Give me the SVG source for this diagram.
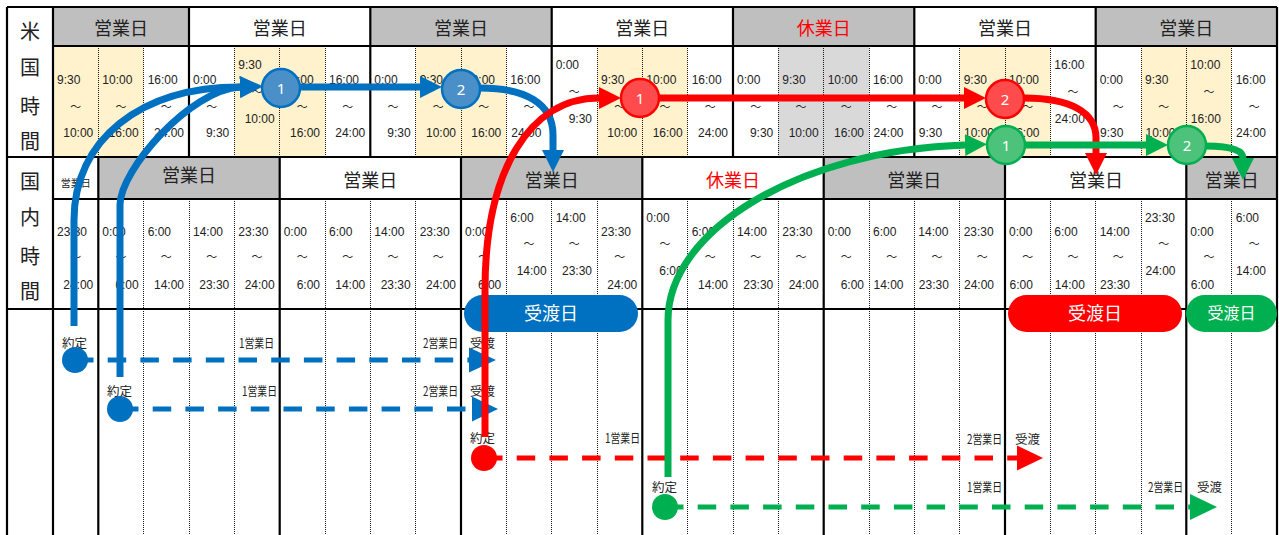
<svg xmlns="http://www.w3.org/2000/svg" width="1279" height="535" viewBox="0 0 1279 535">
<style>
.tk{stroke:#000;stroke-width:2.2;fill:none}
.dt{stroke:#1a1a1a;stroke-width:1;stroke-dasharray:1 1;fill:none}
.t{font-family:"Liberation Sans",Arial,sans-serif;font-size:12px;fill:#222}
.e{text-anchor:end}
.w{font-family:"Noto Sans CJK JP",sans-serif;font-size:11px;fill:#222;text-anchor:middle}
.h{font-family:"Noto Sans CJK JP",sans-serif;font-size:18px;fill:#222;text-anchor:middle}
.red{fill:#FF0000}
.lb{font-family:"Noto Sans CJK JP",sans-serif;font-size:20px;fill:#222;text-anchor:middle}
.s{font-family:"Noto Sans CJK JP",sans-serif;font-size:12.5px;fill:#222}
.pill{font-family:"Noto Sans CJK JP",sans-serif;font-size:18px;fill:#fff;text-anchor:middle}
.num{font-family:"Noto Sans",sans-serif;font-size:15px;fill:#fff;text-anchor:middle}
.cb{stroke:#0070C0;stroke-width:7;fill:none}
.cr{stroke:#FF0000;stroke-width:7;fill:none}
.cg{stroke:#00B050;stroke-width:7;fill:none}
.db{stroke:#0070C0;stroke-width:5;fill:none;stroke-dasharray:18.5 14.2}
.dr{stroke:#FF0000;stroke-width:5;fill:none;stroke-dasharray:18.5 14.2}
.dg{stroke:#00B050;stroke-width:5;fill:none;stroke-dasharray:18.5 14.2}
</style>
<defs>
<marker id="ab" markerUnits="userSpaceOnUse" markerWidth="22" markerHeight="22" viewBox="0 0 22 22" refX="0" refY="11" orient="auto"><path d="M0,0 L22,11 L0,22z" fill="#0070C0"/></marker>
<marker id="ar" markerUnits="userSpaceOnUse" markerWidth="22" markerHeight="22" viewBox="0 0 22 22" refX="0" refY="11" orient="auto"><path d="M0,0 L22,11 L0,22z" fill="#FF0000"/></marker>
<marker id="ag" markerUnits="userSpaceOnUse" markerWidth="22" markerHeight="22" viewBox="0 0 22 22" refX="0" refY="11" orient="auto"><path d="M0,0 L22,11 L0,22z" fill="#00B050"/></marker>
</defs>
<rect x="0" y="0" width="1279" height="535" fill="#fff"/>

<g id="fills">
<rect x="53" y="7" width="136" height="39" fill="#BFBFBF"/>
<rect x="370.3" y="7" width="181.4" height="39" fill="#BFBFBF"/>
<rect x="733" y="7" width="181.3" height="39" fill="#BFBFBF"/>
<rect x="1095.7" y="7" width="181.3" height="39" fill="#BFBFBF"/>
<rect x="53" y="46" width="90.7" height="111" fill="#FFF2CC"/>
<rect x="234.3" y="46" width="90.7" height="111" fill="#FFF2CC"/>
<rect x="415.7" y="46" width="90.6" height="111" fill="#FFF2CC"/>
<rect x="597" y="46" width="90.7" height="111" fill="#FFF2CC"/>
<rect x="778.3" y="46" width="90.7" height="111" fill="#D9D9D9"/>
<rect x="959.7" y="46" width="90.6" height="111" fill="#FFF2CC"/>
<rect x="1141" y="46" width="90.7" height="111" fill="#FFF2CC"/>
<rect x="98.3" y="157" width="181.4" height="42" fill="#BFBFBF"/>
<rect x="461" y="157" width="181.3" height="42" fill="#BFBFBF"/>
<rect x="823.7" y="157" width="181.3" height="42" fill="#BFBFBF"/>
<rect x="1186.3" y="157" width="90.7" height="42" fill="#BFBFBF"/>
</g>

<g id="grid">
<path class="dt" d="M98.5,46V157M143.5,46V157M234.5,46V157M279.5,46V157M325.5,46V157M415.5,46V157M461.5,46V157M506.5,46V157M597.5,46V157M642.5,46V157M687.5,46V157M778.5,46V157M823.5,46V157M869.5,46V157M959.5,46V157M1005.5,46V157M1050.5,46V157M1141.5,46V157M1186.5,46V157M1231.5,46V157"/>
<path class="dt" d="M143.5,199V535M189.5,199V535M234.5,199V535M325.5,199V535M370.5,199V535M415.5,199V535M506.5,199V535M551.5,199V535M597.5,199V535M687.5,199V535M733.5,199V535M778.5,199V535M869.5,199V535M914.5,199V535M959.5,199V535M1050.5,199V535M1095.5,199V535M1141.5,199V535M1231.5,199V535"/>
<path class="tk" d="M7,7H1277M53,46H1277M7,157H1277M53,199H1277M7,309H1277M7,7V535M53,7V535M1277,7V535"/>
<path class="tk" d="M189,7V157M370.3,7V157M551.7,7V157M733,7V157M914.3,7V157M1095.7,7V157"/>
<path class="tk" d="M98.3,157V535M279.7,157V535M461,157V535M642.3,157V535M823.7,157V535M1005,157V535M1186.3,157V535"/>
</g>

<g id="labels-left">
<text class="lb" x="30" y="39">米</text>
<text class="lb" x="30" y="75">国</text>
<text class="lb" x="30" y="114">時</text>
<text class="lb" x="30" y="149">間</text>
<text class="lb" x="30" y="189">国</text>
<text class="lb" x="30" y="225">内</text>
<text class="lb" x="30" y="264">時</text>
<text class="lb" x="30" y="299">間</text>
</g>

<g id="us-header">
<text class="h" x="121" y="34.5">営業日</text>
<text class="h" x="279.7" y="34.5">営業日</text>
<text class="h" x="461" y="34.5">営業日</text>
<text class="h" x="642.3" y="34.5">営業日</text>
<text class="h red" x="823.7" y="34.5">休業日</text>
<text class="h" x="1005" y="34.5">営業日</text>
<text class="h" x="1186.3" y="34.5">営業日</text>
</g>

<g id="jp-header">
<text class="h" x="75.7" y="186.5" style="font-size:10px">営業日</text>
<text class="h" x="189" y="181.5">営業日</text>
<text class="h" x="370.3" y="186.5">営業日</text>
<text class="h" x="551.7" y="186.5">営業日</text>
<text class="h red" x="733" y="186.5">休業日</text>
<text class="h" x="914.3" y="186.5">営業日</text>
<text class="h" x="1096" y="186.5">営業日</text>
<text class="h" x="1231.7" y="186.5">営業日</text>
</g>

<g id="us-times">
<text class="t" x="57" y="84">9:30</text><text class="w" x="75.7" y="111">～</text><text class="t e" x="93.3" y="137">10:00</text>
<text class="t" x="102.3" y="84">10:00</text><text class="w" x="121" y="111">～</text><text class="t e" x="138.7" y="137">16:00</text>
<text class="t" x="147.7" y="84">16:00</text><text class="w" x="166.3" y="111">～</text><text class="t e" x="184" y="137">24:00</text>
<text class="t" x="193" y="84">0:00</text><text class="w" x="211.7" y="111">～</text><text class="t e" x="229.3" y="137">9:30</text>
<text class="t" x="238.3" y="69">9:30</text><text class="w" x="257" y="96">～</text><text class="t e" x="274.7" y="123">10:00</text>
<text class="t" x="283.7" y="84">10:00</text><text class="w" x="302.3" y="111">～</text><text class="t e" x="320" y="137">16:00</text>
<text class="t" x="329" y="84">16:00</text><text class="w" x="347.7" y="111">～</text><text class="t e" x="365.3" y="137">24:00</text>
<text class="t" x="374.3" y="84">0:00</text><text class="w" x="393" y="111">～</text><text class="t e" x="410.7" y="137">9:30</text>
<text class="t" x="419.7" y="84">9:30</text><text class="w" x="438.3" y="111">～</text><text class="t e" x="456" y="137">10:00</text>
<text class="t" x="465" y="84">10:00</text><text class="w" x="483.7" y="111">～</text><text class="t e" x="501.3" y="137">16:00</text>
<text class="t" x="510.3" y="84">16:00</text><text class="w" x="529" y="111">～</text><text class="t" x="511.3" y="137">24:00</text>
<text class="t" x="555.7" y="69">0:00</text><text class="w" x="574.3" y="96">～</text><text class="t e" x="592" y="123">9:30</text>
<text class="t" x="601" y="84">9:30</text><text class="w" x="619.7" y="111">～</text><text class="t e" x="637.3" y="137">10:00</text>
<text class="t" x="646.3" y="84">10:00</text><text class="w" x="665" y="111">～</text><text class="t e" x="682.7" y="137">16:00</text>
<text class="t" x="691.7" y="84">16:00</text><text class="w" x="710.3" y="111">～</text><text class="t e" x="728" y="137">24:00</text>
<text class="t" x="737" y="84">0:00</text><text class="w" x="755.7" y="111">～</text><text class="t e" x="773.3" y="137">9:30</text>
<text class="t" x="782.3" y="84">9:30</text><text class="w" x="801" y="111">～</text><text class="t e" x="818.7" y="137">10:00</text>
<text class="t" x="827.7" y="84">10:00</text><text class="w" x="846.3" y="111">～</text><text class="t e" x="864" y="137">16:00</text>
<text class="t" x="873" y="84">16:00</text><text class="w" x="891.7" y="111">～</text><text class="t" x="873.5" y="137">24:00</text>
<text class="t" x="918.3" y="84">0:00</text><text class="w" x="937" y="111">～</text><text class="t" x="918.8" y="137">9:30</text>
<text class="t" x="963.7" y="84">9:30</text><text class="w" x="982.3" y="111">～</text><text class="t" x="964" y="137">10:00</text>
<text class="t" x="1009" y="84">10:00</text><text class="w" x="1027.7" y="111">～</text><text class="t" x="1009.5" y="137">16:00</text>
<text class="t" x="1054.3" y="69">16:00</text><text class="w" x="1073" y="96">～</text><text class="t" x="1054.8" y="123">24:00</text>
<text class="t" x="1099.7" y="84">0:00</text><text class="w" x="1118.3" y="111">～</text><text class="t" x="1100" y="137">9:30</text>
<text class="t" x="1145" y="84">9:30</text><text class="w" x="1163.7" y="111">～</text><text class="t" x="1145.5" y="137">10:00</text>
<text class="t" x="1190.3" y="69">10:00</text><text class="w" x="1209" y="96">～</text><text class="t" x="1190.8" y="123">16:00</text>
<text class="t" x="1235.7" y="84">16:00</text><text class="w" x="1254.3" y="111">～</text><text class="t" x="1236" y="137">24:00</text>
</g>

<g id="jp-times">
<text class="t" x="57" y="236">23:30</text><text class="w" x="75.7" y="261">～</text><text class="t e" x="93.3" y="289">24:00</text>
<text class="t" x="102.3" y="236">0:00</text><text class="w" x="121" y="261">～</text><text class="t e" x="138.7" y="289">6:00</text>
<text class="t" x="147.7" y="236">6:00</text><text class="w" x="166.3" y="261">～</text><text class="t e" x="184" y="289">14:00</text>
<text class="t" x="193" y="236">14:00</text><text class="w" x="211.7" y="261">～</text><text class="t e" x="229.3" y="289">23:30</text>
<text class="t" x="238.3" y="236">23:30</text><text class="w" x="257" y="261">～</text><text class="t e" x="274.7" y="289">24:00</text>
<text class="t" x="283.7" y="236">0:00</text><text class="w" x="302.3" y="261">～</text><text class="t e" x="320" y="289">6:00</text>
<text class="t" x="329" y="236">6:00</text><text class="w" x="347.7" y="261">～</text><text class="t e" x="365.3" y="289">14:00</text>
<text class="t" x="374.3" y="236">14:00</text><text class="w" x="393" y="261">～</text><text class="t e" x="410.7" y="289">23:30</text>
<text class="t" x="419.7" y="236">23:30</text><text class="w" x="438.3" y="261">～</text><text class="t e" x="456" y="289">24:00</text>
<text class="t" x="465" y="236">0:00</text><text class="w" x="483.7" y="261">～</text><text class="t e" x="501.3" y="289">6:00</text>
<text class="t" x="510.3" y="222">6:00</text><text class="w" x="529" y="248">～</text><text class="t e" x="546.7" y="275">14:00</text>
<text class="t" x="555.7" y="222">14:00</text><text class="w" x="574.3" y="248">～</text><text class="t e" x="592" y="275">23:30</text>
<text class="t" x="601" y="236">23:30</text><text class="w" x="619.7" y="261">～</text><text class="t e" x="637.3" y="289">24:00</text>
<text class="t" x="646.3" y="222">0:00</text><text class="w" x="665" y="248">～</text><text class="t e" x="682.7" y="275">6:00</text>
<text class="t" x="691.7" y="236">6:00</text><text class="w" x="710.3" y="261">～</text><text class="t e" x="728" y="289">14:00</text>
<text class="t" x="737" y="236">14:00</text><text class="w" x="755.7" y="261">～</text><text class="t e" x="773.3" y="289">23:30</text>
<text class="t" x="782.3" y="236">23:30</text><text class="w" x="801" y="261">～</text><text class="t e" x="818.7" y="289">24:00</text>
<text class="t" x="827.7" y="236">0:00</text><text class="w" x="846.3" y="261">～</text><text class="t e" x="864" y="289">6:00</text>
<text class="t" x="873" y="236">6:00</text><text class="w" x="891.7" y="261">～</text><text class="t" x="873.5" y="289">14:00</text>
<text class="t" x="918.3" y="236">14:00</text><text class="w" x="937" y="261">～</text><text class="t" x="918.8" y="289">23:30</text>
<text class="t" x="963.7" y="236">23:30</text><text class="w" x="982.3" y="261">～</text><text class="t" x="964" y="289">24:00</text>
<text class="t" x="1009" y="236">0:00</text><text class="w" x="1027.7" y="261">～</text><text class="t" x="1009.5" y="289">6:00</text>
<text class="t" x="1054.3" y="236">6:00</text><text class="w" x="1073" y="261">～</text><text class="t" x="1054.8" y="289">14:00</text>
<text class="t" x="1099.7" y="236">14:00</text><text class="w" x="1118.3" y="261">～</text><text class="t" x="1100" y="289">23:30</text>
<text class="t" x="1145" y="222">23:30</text><text class="w" x="1163.7" y="248">～</text><text class="t" x="1145.5" y="275">24:00</text>
<text class="t" x="1190.3" y="236">0:00</text><text class="w" x="1209" y="261">～</text><text class="t" x="1190.8" y="289">6:00</text>
<text class="t" x="1235.7" y="222">6:00</text><text class="w" x="1254.3" y="248">～</text><text class="t" x="1236" y="275">14:00</text>
</g>

<g id="pill-blue"><rect x="464" y="295" width="174" height="37" rx="18.5" fill="#0070C0"/><text class="pill" x="551" y="320">受渡日</text></g>
<g id="pill-red"><rect x="1008" y="295" width="174" height="37" rx="18.5" fill="#FF0000"/><text class="pill" x="1095" y="320">受渡日</text></g>
<g id="pill-green"><rect x="1186" y="295" width="91" height="37" rx="18.5" fill="#00B050"/><text class="pill" x="1231.5" y="319" style="font-size:16px">受渡日</text></g>

<g id="bottom-labels">
<text class="s" x="62" y="348">約定</text>
<text class="s" x="239" y="348" textLength="35" lengthAdjust="spacingAndGlyphs">1営業日</text>
<text class="s" x="423" y="348" textLength="35" lengthAdjust="spacingAndGlyphs">2営業日</text>
<text class="s" x="470" y="348">受渡</text>
<text class="s" x="107" y="396">約定</text>
<text class="s" x="242" y="396" textLength="35" lengthAdjust="spacingAndGlyphs">1営業日</text>
<text class="s" x="423" y="396" textLength="35" lengthAdjust="spacingAndGlyphs">2営業日</text>
<text class="s" x="470" y="396">受渡</text>
<text class="s" x="470" y="443">約定</text>
<text class="s" x="605" y="443" textLength="35" lengthAdjust="spacingAndGlyphs">1営業日</text>
<text class="s" x="967" y="444" textLength="35" lengthAdjust="spacingAndGlyphs">2営業日</text>
<text class="s" x="1015" y="444">受渡</text>
<text class="s" x="652" y="492">約定</text>
<text class="s" x="967" y="492" textLength="35" lengthAdjust="spacingAndGlyphs">1営業日</text>
<text class="s" x="1148" y="492" textLength="35" lengthAdjust="spacingAndGlyphs">2営業日</text>
<text class="s" x="1197" y="492">受渡</text>
</g>

<g id="connectors">
<path class="db" d="M75,360H469"/>
<polygon points="469,347.5 496,360 469,372.5" fill="#0070C0"/>
<circle cx="75" cy="360" r="13" fill="#0070C0"/>
<path class="db" d="M120,409H472"/>
<polygon points="472,396.5 498,409 472,421.5" fill="#0070C0"/>
<circle cx="120" cy="409" r="13" fill="#0070C0"/>
<path class="dr" d="M484,458H1017"/>
<polygon points="1017,445.5 1043,458 1017,470.5" fill="#FF0000"/>
<circle cx="484" cy="458" r="13" fill="#FF0000"/>
<path class="dg" d="M665,507H1190"/>
<polygon points="1190,494 1217,507 1190,520" fill="#00B050"/>
<circle cx="665" cy="507" r="13" fill="#00B050"/>

<path class="cb" d="M74,326V220C74,140 140,87 240,87" marker-end="url(#ab)"/>
<path class="cb" d="M120,377V205C120,170 190,90 240,87" marker-end="url(#ab)"/>
<path class="cb" d="M300,87H420" marker-end="url(#ab)"/>
<path class="cb" d="M480,88C525,88 553,103 553,135V150" marker-end="url(#ab)"/>
<path class="cr" d="M485,437V290C485,170 530,98 599,98" marker-end="url(#ar)"/>
<path class="cr" d="M659,98H964" marker-end="url(#ar)"/>
<path class="cr" d="M1024,98C1070,98 1096,112 1096,138V153" marker-end="url(#ar)"/>
<path class="cg" d="M668,477V320C668,230 800,150 965,145" marker-end="url(#ag)"/>
<path class="cg" d="M1025,145H1146" marker-end="url(#ag)"/>
<path class="cg" d="M1206,146C1230,146 1243,150 1243,158" marker-end="url(#ag)"/>
</g>

<g id="node-b1"><circle cx="281" cy="88" r="19" fill="#4A8FC7" stroke="#0070C0" stroke-width="2.5"/><text class="num" x="281" y="93.5">1</text></g>
<g id="node-b2"><circle cx="461" cy="89" r="19" fill="#4A8FC7" stroke="#0070C0" stroke-width="2.5"/><text class="num" x="461" y="94.5">2</text></g>
<g id="node-r1"><circle cx="640" cy="98" r="19" fill="#FF4B4B" stroke="#FF0000" stroke-width="2.5"/><text class="num" x="640" y="103.5">1</text></g>
<g id="node-r2"><circle cx="1005" cy="99" r="19" fill="#FF4B4B" stroke="#FF0000" stroke-width="2.5"/><text class="num" x="1005" y="104.5">2</text></g>
<g id="node-g1"><circle cx="1006" cy="145" r="19" fill="#4CC27A" stroke="#00B050" stroke-width="2.5"/><text class="num" x="1006" y="150.5">1</text></g>
<g id="node-g2"><circle cx="1187" cy="145" r="19" fill="#4CC27A" stroke="#00B050" stroke-width="2.5"/><text class="num" x="1187" y="150.5">2</text></g>
</svg>
